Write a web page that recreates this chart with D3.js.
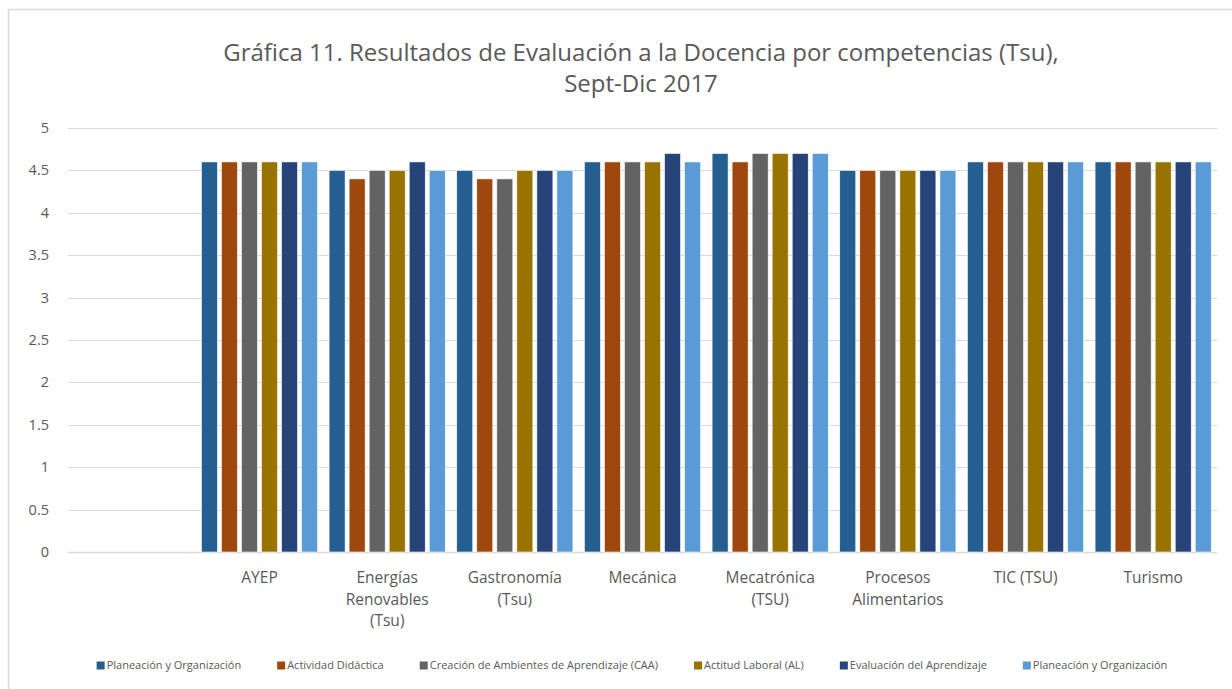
<!DOCTYPE html>
<html><head><meta charset="utf-8">
<script src="https://cdn.jsdelivr.net/npm/d3@7"></script>
<style>body{margin:0;background:#fff}svg{display:block}</style>
</head><body>
<svg id="c" width="1232" height="689"></svg>
<script>
const categories = ["", "AYEP", "Energías\nRenovables\n(Tsu)", "Gastronomía\n(Tsu)", "Mecánica", "Mecatrónica\n(TSU)", "Procesos\nAlimentarios", "TIC (TSU)", "Turismo"];
const seriesNames = ["Planeación y Organización", "Actividad Didáctica", "Creación de Ambientes de Aprendizaje (CAA)", "Actitud Laboral (AL)", "Evaluación del Aprendizaje", "Planeación y Organización"];
const seriesColors = ["#255E91", "#9E480E", "#636363", "#997300", "#264478", "#5B9BD5"];
// values per category (first category empty)
const vAYEP = [4.6, 4.6, 4.6, 4.6, 4.6, 4.6];
const vEnergias = [4.5, 4.4, 4.5, 4.5, 4.6, 4.5];
const vGastronomia = [4.5, 4.4, 4.4, 4.5, 4.5, 4.5];
const vMecanica = [4.6, 4.6, 4.6, 4.6, 4.7, 4.6];
const vMecatronica = [4.7, 4.6, 4.7, 4.7, 4.7, 4.7];
const vProcesos = [4.5, 4.5, 4.5, 4.5, 4.5, 4.5];
const vTIC = [4.6, 4.6, 4.6, 4.6, 4.6, 4.6];
const vTurismo = [4.6, 4.6, 4.6, 4.6, 4.6, 4.6];
const values = [null, vAYEP, vEnergias, vGastronomia, vMecanica, vMecatronica, vProcesos, vTIC, vTurismo];
const yTicks = [0, 0.5, 1, 1.5, 2, 2.5, 3, 3.5, 4, 4.5, 5];
const title1 = "Gráfica 11. Resultados de Evaluación a la Docencia por competencias (Tsu),";
const title2 = "Sept-Dic 2017";

const svg = d3.select("#c");
const FONT = "'Open Sans', 'Noto Sans', sans-serif";
const txt = "#595959";

// outer border
svg.append("rect").attr("x", 8.5).attr("y", 9.5).attr("width", 1240).attr("height", 700)
  .attr("fill", "#fff").attr("stroke", "#D9D9D9").attr("stroke-width", 1.5);

const pLeft = 68, pRight = 1217, pTop = 128, pBottom = 552;
const x = d3.scaleBand().domain(d3.range(categories.length)).range([pLeft, pRight]).padding(0);
const bw = x.bandwidth();
const inner = d3.scaleBand().domain(d3.range(seriesNames.length))
  .range([bw * 0.045, bw * 0.955]).paddingInner(0.2).paddingOuter(0);
const y = d3.scaleLinear().domain([0, 5]).range([pBottom, pTop]);

// gridlines
svg.append("g").selectAll("line").data(yTicks).join("line")
  .attr("x1", pLeft).attr("x2", pRight)
  .attr("y1", d => Math.round(y(d)) + 0.5).attr("y2", d => Math.round(y(d)) + 0.5)
  .attr("stroke", "#D9D9D9").attr("stroke-width", d => d === 0 ? 1.5 : 1.2);

// y tick labels
svg.append("g").selectAll("text").data(yTicks).join("text")
  .attr("x", 49).attr("y", d => y(d)).attr("dy", "0.35em")
  .attr("text-anchor", "end").attr("font-family", FONT).attr("font-size", 14.5).attr("fill", txt)
  .text(d => d);

// bars
const groups = svg.append("g").selectAll("g").data(values.map((v, i) => ({i, v})).filter(d => d.v))
  .join("g").attr("transform", d => `translate(${x(d.i)},0)`);
groups.selectAll("rect").data(d => d.v.map((val, s) => ({s, val}))).join("rect")
  .attr("x", d => inner(d.s)).attr("width", inner.bandwidth())
  .attr("y", d => y(d.val)).attr("height", d => y(0) - y(d.val))
  .attr("fill", d => seriesColors[d.s]).attr("stroke", "#fff").attr("stroke-width", 0.6);

// category labels
const cl = svg.append("g").selectAll("text").data(categories.map((c, i) => ({c, i}))).join("text")
  .attr("x", d => x(d.i) + bw / 2).attr("y", 583)
  .attr("text-anchor", "middle").attr("font-family", FONT).attr("font-size", 15.5).attr("fill", txt);
cl.each(function(d) {
  const lines = d.c.split("\n");
  d3.select(this).selectAll("tspan").data(lines).join("tspan")
    .attr("x", x(d.i) + bw / 2).attr("dy", (l, k) => k === 0 ? 0 : 21.5).text(l => l);
});

// title
svg.append("text").attr("x", 641).attr("y", 61).attr("text-anchor", "middle")
  .attr("font-family", FONT).attr("font-size", 24).attr("fill", txt).text(title1);
svg.append("text").attr("x", 641).attr("y", 92).attr("text-anchor", "middle")
  .attr("font-family", FONT).attr("font-size", 24).attr("fill", txt).text(title2);

// legend
const lg = svg.append("g");
const items = lg.selectAll("g").data(seriesNames.map((n, i) => ({n, i}))).join("g");
items.append("rect").attr("width", 8).attr("height", 8).attr("y", -7.5).attr("fill", d => seriesColors[d.i]);
items.append("text").attr("x", 10).attr("y", 0).attr("font-family", FONT).attr("font-size", 11)
  .attr("fill", txt).text(d => d.n);
let cx = 0; const gap = 36; const pos = [];
items.each(function(d) {
  const w = 10 + d3.select(this).select("text").node().getComputedTextLength();
  pos.push(cx); cx += w + gap;
});
const total = cx - gap;
const startX = 632 - total / 2;
items.attr("transform", (d, i) => `translate(${startX + pos[i]},669)`);
</script>
</body></html>
